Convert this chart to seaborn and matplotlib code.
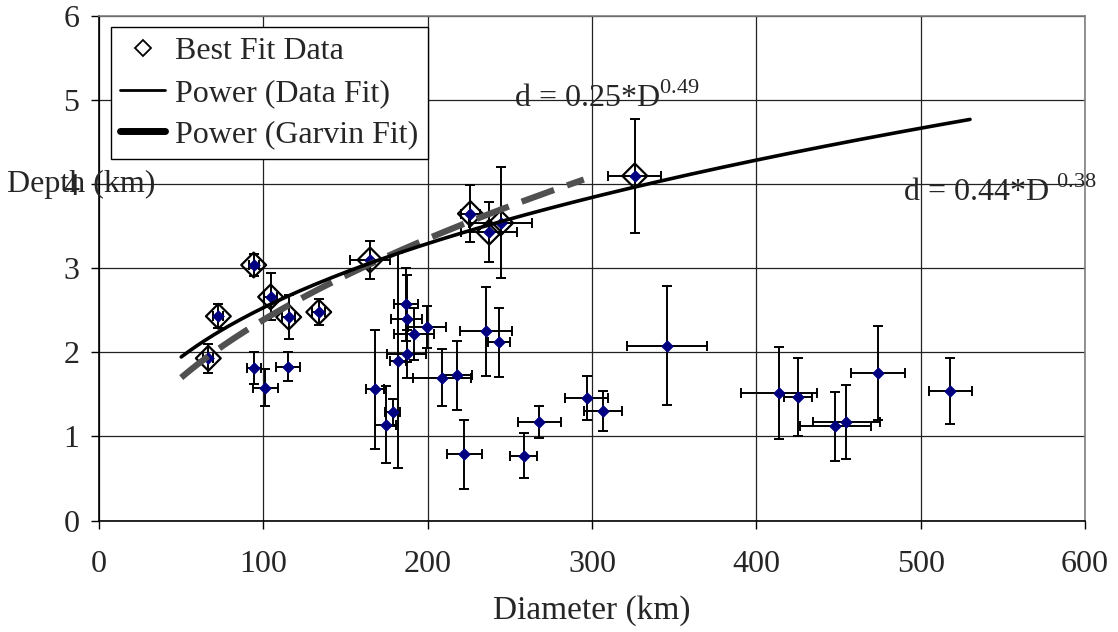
import numpy as np
import pandas as pd
import matplotlib
matplotlib.use('Agg')
import matplotlib.pyplot as plt
import matplotlib.transforms as mtransforms
from matplotlib.lines import Line2D
import seaborn as sns

# crater depth / diameter values (km)
diameter = [66.5, 72.6, 94.1, 104.4, 115.4, 133.7, 164.9, 226.0, 237.4, 244.4, 326.0,
            94.1, 101.2, 115.0, 168.0, 174.4, 178.6, 181.8, 186.6, 187.1, 187.2,
            191.7, 199.7, 208.8, 217.9, 222.3, 235.5, 243.4, 258.3, 268.0, 296.8,
            306.5, 345.7, 413.9, 425.6, 448.0, 454.6, 473.9, 518.0]
depth = [1.93, 2.43, 3.04, 2.66, 2.42, 2.48, 3.10, 3.65, 3.43, 3.54, 4.10,
         1.82, 1.58, 1.83, 1.56, 1.14, 1.29, 1.90, 2.57, 2.40, 1.98,
         2.22, 2.30, 1.70, 1.73, 0.79, 2.25, 2.12, 0.77, 1.17, 1.46,
         1.30, 2.08, 1.52, 1.47, 1.12, 1.17, 1.75, 1.54]
diameter_err = [3, 3, 3, 4, 4, 4, 12, 6, 17, 19, 16,
                4.3, 7.6, 7.5, 5.3, 6.4, 4.4, 5, 7.4, 9.5, 12,
                12, 11.4, 17.7, 9, 10.7, 16, 6.8, 8, 13.2, 13.2,
                11.5, 24.5, 23, 8.5, 21.5, 20.4, 16.5, 13]
depth_err = [0.17, 0.14, 0.13, 0.28, 0.26, 0.15, 0.23, 0.34, 0.36, 0.66, 0.68,
             0.19, 0.22, 0.17, 0.71, 0.46, 0.16, 1.28, 0.43, 0.52, 0.29,
             0.31, 0.25, 0.34, 0.41, 0.41, 0.53, 0.41, 0.27, 0.19, 0.26,
             0.24, 0.71, 0.55, 0.46, 0.41, 0.44, 0.56, 0.39]
best_fit = [True] * 11 + [False] * 28

# power-law trendlines d = a * D^b, as labelled on the chart
data_fit = (0.44, 0.38)
data_fit_range = (50, 530)
garvin_fit = (0.25, 0.49)
garvin_fit_range = (50, 295)

df = pd.DataFrame({'diameter': diameter, 'depth': depth,
                   'd_err': diameter_err, 'h_err': depth_err, 'best': best_fit})

sns.set_style('ticks')
plt.rcParams['font.family'] = ['Liberation Serif', 'DejaVu Serif']
plt.rcParams['mathtext.fontset'] = 'custom'
plt.rcParams['mathtext.rm'] = 'Liberation Serif'

fig = plt.figure(figsize=(11.18, 6.32), dpi=100)
ax = fig.add_axes([0.0886, 0.1764, 0.8819, 0.798])

# error bars + blue points
ax.errorbar(df['diameter'], df['depth'], xerr=df['d_err'], yerr=df['h_err'],
            fmt='none', ecolor='black', elinewidth=1.4, capsize=3.5, capthick=1.4, zorder=2)
sns.scatterplot(data=df, x='diameter', y='depth', marker='D', color='#000080',
                edgecolor='#000080', s=42, linewidth=0, zorder=3, legend=False, ax=ax)
sns.scatterplot(data=df[df['best']], x='diameter', y='depth', marker='D', s=160,
                facecolors='none', edgecolor='black', linewidth=1.6, zorder=4,
                legend=False, ax=ax)

# trendlines
D1 = np.linspace(*data_fit_range, 200)
sns.lineplot(x=D1, y=data_fit[0] * D1 ** data_fit[1], color='black', lw=2.6,
             zorder=5, ax=ax)
D2 = np.linspace(*garvin_fit_range, 200)
sns.lineplot(x=D2, y=garvin_fit[0] * D2 ** garvin_fit[1], color='#505050', lw=4.5,
             linestyle=(0, (5.5, 2.2)), zorder=4.5, ax=ax)

ax.text(252.5, 4.92, r'd = 0.25*D$^{0.49}$', fontsize=23, va='baseline', ha='left')
ax.text(489.1, 3.80, r'd = 0.44*D $^{0.38}$', fontsize=23, va='baseline', ha='left')

ax.set_xlim(0, 600)
ax.set_ylim(0, 6)
ax.set_xticks(range(0, 601, 100))
ax.set_yticks(range(0, 7))
ax.grid(True, color='#222222', lw=0.9)
ax.set_axisbelow(True)
for side in ['left', 'bottom']:
    ax.spines[side].set_color('black')
    ax.spines[side].set_linewidth(1.2)
for side in ['top', 'right']:
    ax.spines[side].set_color('#7f7f7f')
    ax.spines[side].set_linewidth(1.2)
ax.tick_params(axis='both', labelsize=23, direction='out', length=6, width=1, color='black')
ax.tick_params(axis='x', pad=15)
ax.tick_params(axis='y', pad=8)

ax.set_xlabel('Diameter (km)', fontsize=24, labelpad=12)
ax.set_ylabel('')
trans = mtransforms.blended_transform_factory(ax.transAxes, ax.transData)
ax.text(-0.093, 4, 'Depth (km)', transform=trans, fontsize=23, ha='left', va='center')

handles = [
    Line2D([], [], marker='D', ls='none', mfc='none', mec='black', ms=8, mew=1.3),
    Line2D([], [], color='black', lw=2),
    Line2D([], [], color='black', lw=5),
]
labels = ['Best Fit Data', 'Power (Data Fit)', 'Power (Garvin Fit)']
leg = ax.legend(handles, labels, loc='upper left', bbox_to_anchor=(0.012, 0.978),
                borderaxespad=0, fontsize=23, frameon=True, fancybox=False,
                framealpha=1, edgecolor='black', handlelength=1.4, handletextpad=0.3,
                labelspacing=0.38, borderpad=0.3)
leg.get_frame().set_linewidth(1.0)
leg.set_zorder(10)

fig.savefig('out.png', dpi=100)
